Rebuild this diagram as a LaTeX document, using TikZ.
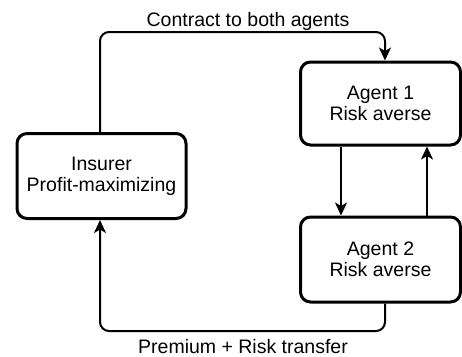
\documentclass[tikz,border=0pt]{standalone}
\usepackage{fontspec}
\setmainfont{Liberation Sans}
\usetikzlibrary{arrows.meta}
\begin{document}
\begin{tikzpicture}[x=1pt,y=-1pt,
  box/.style={draw, line width=3pt, rounded corners=10pt, align=center, inner sep=0pt,
    font=\fontsize{19.5}{21}\selectfont},
  conn/.style={line width=2pt, rounded corners=9pt, -{Stealth[length=13pt,width=12pt,inset=3.5pt]}},
  lab/.style={font=\fontsize{19.5}{21}\selectfont, inner sep=0pt, anchor=base}]
\useasboundingbox (0,0) rectangle (462,356);
\node[box, minimum width=169pt, minimum height=85pt] (ins) at (101.5,176) {Insurer\\Profit-maximizing};
\node[box, minimum width=160pt, minimum height=83pt] (a1) at (380.5,103.5) {Agent 1\\Risk averse};
\node[box, minimum width=160pt, minimum height=85pt] (a2) at (380.5,259.5) {Agent 2\\Risk averse};
\coordinate (t1) at (100,32);
\coordinate (t2) at (385,32);
\coordinate (b1) at (385,331);
\coordinate (b2) at (100,331);
\draw[conn] (ins.north -| t1) -- (t1) -- (t2) -- (a1.north -| t2);
\draw[conn] (a2.south -| b1) -- (b1) -- (b2) -- (ins.south -| b2);
\draw[conn] (a1.south -| 341,0) -- (a2.north -| 341,0);
\draw[conn] (a2.north -| 427,0) -- (a1.south -| 427,0);
\node[lab] (l1) at (248,26.5) {Contract to both agents};
\node[lab] (l2) at (243,353) {Premium + Risk transfer};
\end{tikzpicture}
\end{document}
